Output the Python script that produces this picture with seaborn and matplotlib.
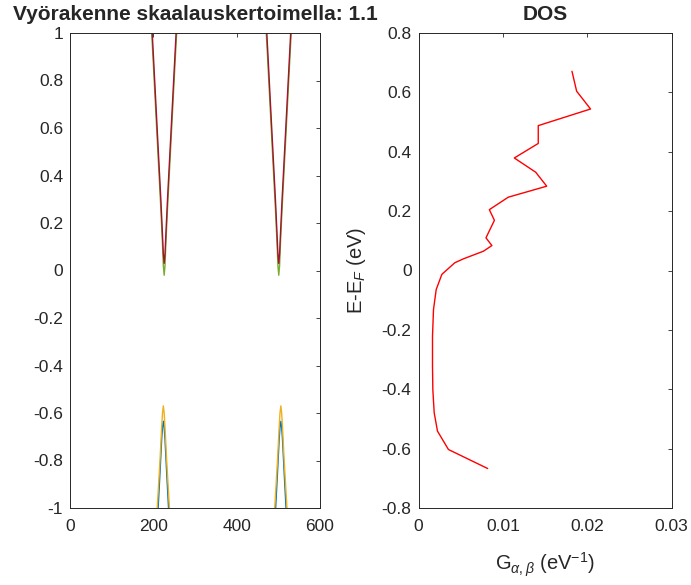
import numpy as np
import matplotlib
matplotlib.use("Agg")
from matplotlib import pyplot as plt
from matplotlib.ticker import FuncFormatter
import seaborn as sns
import pandas as pd

# band structure (only the part inside the window)
k_cond = [190, 200, 210, 218, 222, 224, 226, 228, 230, 234, 242, 252, 262,
          465, 475, 485, 493, 497, 499, 501, 503, 505, 509, 517, 527, 537]
e_red = [1.25, 0.91, 0.57, 0.30, 0.15, 0.07, 0.03, 0.07, 0.15, 0.30, 0.57, 0.91, 1.25,
         1.25, 0.91, 0.57, 0.30, 0.15, 0.07, 0.03, 0.07, 0.15, 0.30, 0.57, 0.91, 1.25]
e_green = [1.20, 0.87, 0.53, 0.26, 0.11, 0.02, -0.02, 0.02, 0.11, 0.26, 0.53, 0.87, 1.20,
           1.20, 0.87, 0.53, 0.26, 0.11, 0.02, -0.02, 0.02, 0.11, 0.26, 0.53, 0.87, 1.20]

k_val = [200, 210, 216, 220, 222, 224, 226, 228, 232, 238, 248,
         482, 492, 498, 502, 504, 506, 508, 510, 514, 520, 530]
e_yellow = [-1.3, -0.98, -0.80, -0.66, -0.60, -0.57, -0.60, -0.66, -0.80, -0.98, -1.3,
            -1.3, -0.98, -0.80, -0.66, -0.60, -0.57, -0.60, -0.66, -0.80, -0.98, -1.3]
e_blue = [-1.4, -1.05, -0.85, -0.71, -0.66, -0.635, -0.66, -0.71, -0.85, -1.05, -1.4,
          -1.4, -1.05, -0.85, -0.71, -0.66, -0.635, -0.66, -0.71, -0.85, -1.05, -1.4]

# density of states
dos_e = [-0.667, -0.603, -0.541, -0.479, -0.401, -0.322, -0.221, -0.131, -0.064, -0.013,
         0.026, 0.039, 0.065, 0.084, 0.110, 0.169, 0.205, 0.247, 0.284, 0.331, 0.379,
         0.428, 0.488, 0.544, 0.604, 0.671]
dos_g = [0.0082, 0.00355, 0.00225, 0.00186, 0.0017, 0.00166, 0.00166, 0.00178, 0.0021, 0.00277,
         0.0043, 0.0053, 0.0077, 0.0087, 0.0080, 0.0090, 0.0084, 0.01065, 0.0152, 0.0139, 0.01136,
         0.0142, 0.0142, 0.0204, 0.01875, 0.0182]

sns.set_style("white")
plt.rcParams['font.family'] = ['Liberation Sans', 'DejaVu Sans']
plt.rcParams['axes.unicode_minus'] = False
plt.rcParams['mathtext.fontset'] = 'custom'
plt.rcParams['mathtext.rm'] = 'Liberation Sans'
plt.rcParams['mathtext.it'] = 'Liberation Sans:italic'

fig = plt.figure(figsize=(6.91, 5.85), dpi=100)
ax1 = fig.add_axes([70 / 691, 1 - 508 / 585, 250 / 691, 475 / 585])
ax2 = fig.add_axes([418.5 / 691, 1 - 508 / 585, 253 / 691, 475 / 585])

lw = 1.0
sns.lineplot(x=k_val, y=e_blue, ax=ax1, color='#0072BD', lw=lw, estimator=None, sort=False)
sns.lineplot(x=k_val, y=e_yellow, ax=ax1, color='#EDB120', lw=lw, estimator=None, sort=False)
sns.lineplot(x=k_cond, y=e_green, ax=ax1, color='#77AC30', lw=lw, estimator=None, sort=False)
sns.lineplot(x=k_cond, y=e_red, ax=ax1, color='#A2142F', lw=lw, estimator=None, sort=False)
ax1.set_xlim(0, 600)
ax1.set_ylim(-1, 1)
ax1.set_xticks([0, 200, 400, 600])
ax1.set_yticks(np.round(np.arange(-1, 1.01, 0.2), 1))
ax1.set_title('Vyörakenne skaalauskertoimella: 1.1', fontsize=15, fontweight='bold', pad=9)

dos = pd.DataFrame({'G': dos_g, 'E': dos_e})
sns.lineplot(data=dos, x='G', y='E', ax=ax2, color='#FF0000', lw=lw, estimator=None, sort=False)
ax2.set_xlim(0, 0.03)
ax2.set_ylim(-0.8, 0.8)
ax2.set_xticks([0, 0.01, 0.02, 0.03])
ax2.set_yticks(np.round(np.arange(-0.8, 0.81, 0.2), 1))
ax2.set_title('DOS', fontsize=15, fontweight='bold', pad=9)
ax2.set_xlabel(r'G$_{\alpha,\beta}$ (eV$^{-1}$)', fontsize=14.5, color='#262626', labelpad=12)
ax2.set_ylabel(r'E-E$_F$ (eV)', fontsize=14.5, color='#262626', labelpad=10)

fmt = FuncFormatter(lambda v, p: '{:g}'.format(round(v, 3) + 0.0))
for ax in (ax1, ax2):
    ax.xaxis.set_major_formatter(fmt)
    ax.yaxis.set_major_formatter(fmt)
    ax.tick_params(direction='in', length=3, width=0.6, top=True, right=True,
                   labelsize=12.5, colors='#262626')
    ax.tick_params(axis='x', pad=8)
    ax.tick_params(axis='y', pad=5)
    for s in ax.spines.values():
        s.set_visible(True)
        s.set_color('#262626')
        s.set_linewidth(0.7)

fig.savefig('out.png', dpi=100)
